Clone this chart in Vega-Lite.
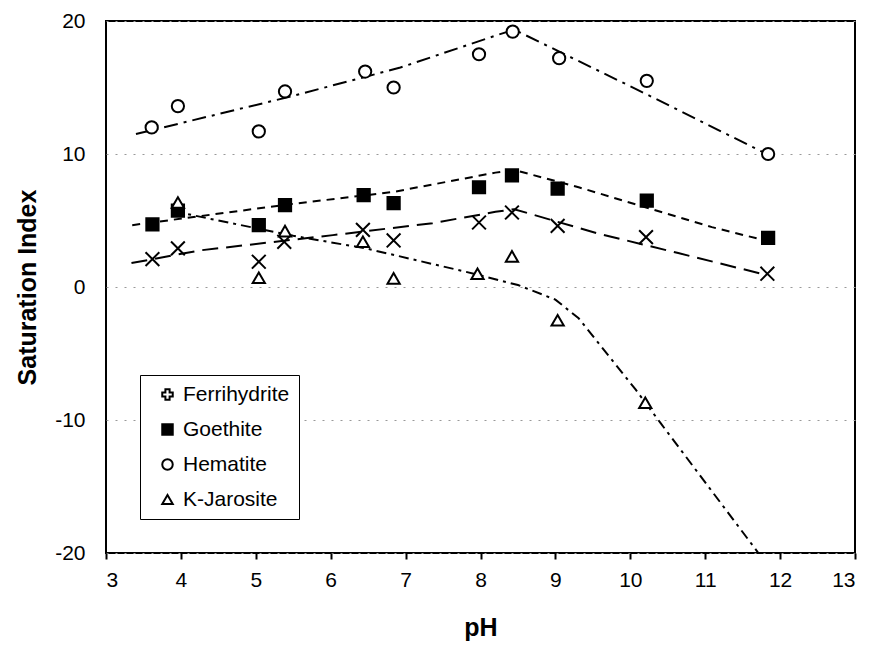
{
  "$schema": "https://vega.github.io/schema/vega-lite/v6.json",
  "width": 749,
  "height": 532,
  "autosize": {"type": "none"},
  "padding": {"left": 106, "top": 21, "right": 21, "bottom": 93},
  "background": "white",
  "config": {
    "font": "Liberation Sans",
    "view": {"stroke": "black", "strokeWidth": 2},
    "axis": {
      "labelFont": "Liberation Sans",
      "labelFontSize": 21,
      "labelColor": "black",
      "titleFont": "Liberation Sans",
      "titleFontSize": 25,
      "titleFontWeight": "bold",
      "titleColor": "black",
      "domain": false
    },
    "legend": {
      "labelFont": "Liberation Sans",
      "labelFontSize": 21,
      "labelColor": "black",
      "strokeColor": "black",
      "fillColor": "white",
      "padding": 9,
      "rowPadding": 13,
      "symbolStrokeWidth": 2,
      "symbolSize": 110,
      "symbolOffset": 8,
      "labelOffset": 5
    }
  },
  "datasets": {
    "pts": [
      {"series": "Ferrihydrite", "pH": 3.62, "SI": 2.1},
      {"series": "Ferrihydrite", "pH": 3.96, "SI": 2.9},
      {"series": "Ferrihydrite", "pH": 5.04, "SI": 1.9},
      {"series": "Ferrihydrite", "pH": 5.38, "SI": 3.4},
      {"series": "Ferrihydrite", "pH": 6.43, "SI": 4.3},
      {"series": "Ferrihydrite", "pH": 6.84, "SI": 3.5},
      {"series": "Ferrihydrite", "pH": 7.98, "SI": 4.85},
      {"series": "Ferrihydrite", "pH": 8.42, "SI": 5.6},
      {"series": "Ferrihydrite", "pH": 9.03, "SI": 4.6},
      {"series": "Ferrihydrite", "pH": 10.21, "SI": 3.75},
      {"series": "Ferrihydrite", "pH": 11.83, "SI": 1.0},
      {"series": "Goethite", "pH": 3.62, "SI": 4.7},
      {"series": "Goethite", "pH": 3.96, "SI": 5.75},
      {"series": "Goethite", "pH": 5.04, "SI": 4.65},
      {"series": "Goethite", "pH": 5.39, "SI": 6.15},
      {"series": "Goethite", "pH": 6.44, "SI": 6.9},
      {"series": "Goethite", "pH": 6.84, "SI": 6.3},
      {"series": "Goethite", "pH": 7.98, "SI": 7.5},
      {"series": "Goethite", "pH": 8.42, "SI": 8.4},
      {"series": "Goethite", "pH": 9.03, "SI": 7.4},
      {"series": "Goethite", "pH": 10.22, "SI": 6.5},
      {"series": "Goethite", "pH": 11.84, "SI": 3.7},
      {"series": "Hematite", "pH": 3.61, "SI": 12.0},
      {"series": "Hematite", "pH": 3.96, "SI": 13.6},
      {"series": "Hematite", "pH": 5.04, "SI": 11.7},
      {"series": "Hematite", "pH": 5.39, "SI": 14.7},
      {"series": "Hematite", "pH": 6.46, "SI": 16.2},
      {"series": "Hematite", "pH": 6.84, "SI": 15.0},
      {"series": "Hematite", "pH": 7.98, "SI": 17.5},
      {"series": "Hematite", "pH": 8.43, "SI": 19.2},
      {"series": "Hematite", "pH": 9.05, "SI": 17.2},
      {"series": "Hematite", "pH": 10.22, "SI": 15.5},
      {"series": "Hematite", "pH": 11.84, "SI": 10.0},
      {"series": "K-Jarosite", "pH": 3.96, "SI": 6.35},
      {"series": "K-Jarosite", "pH": 5.04, "SI": 0.7},
      {"series": "K-Jarosite", "pH": 5.39, "SI": 4.2},
      {"series": "K-Jarosite", "pH": 6.43, "SI": 3.4},
      {"series": "K-Jarosite", "pH": 6.84, "SI": 0.65},
      {"series": "K-Jarosite", "pH": 7.96, "SI": 1.0},
      {"series": "K-Jarosite", "pH": 8.42, "SI": 2.3},
      {"series": "K-Jarosite", "pH": 9.03, "SI": -2.5},
      {"series": "K-Jarosite", "pH": 10.2, "SI": -8.7}
    ],
    "fits": [
      {"series": "Hematite", "pH": 3.4, "SI": 11.5},
      {"series": "Hematite", "pH": 5.45, "SI": 14.3},
      {"series": "Hematite", "pH": 6.93, "SI": 16.5},
      {"series": "Hematite", "pH": 8.2, "SI": 18.9},
      {"series": "Hematite", "pH": 8.45, "SI": 19.35},
      {"series": "Hematite", "pH": 10.07, "SI": 14.9},
      {"series": "Hematite", "pH": 11.82, "SI": 10.0},
      {"series": "Goethite", "pH": 3.35, "SI": 4.65},
      {"series": "Goethite", "pH": 5.42, "SI": 6.2},
      {"series": "Goethite", "pH": 6.84, "SI": 7.15},
      {"series": "Goethite", "pH": 8.2, "SI": 8.6},
      {"series": "Goethite", "pH": 8.45, "SI": 8.8},
      {"series": "Goethite", "pH": 9.31, "SI": 7.5},
      {"series": "Goethite", "pH": 11.09, "SI": 4.5},
      {"series": "Goethite", "pH": 11.8, "SI": 3.5},
      {"series": "Ferrihydrite", "pH": 3.34, "SI": 1.8},
      {"series": "Ferrihydrite", "pH": 4.25, "SI": 2.75},
      {"series": "Ferrihydrite", "pH": 6.03, "SI": 3.9},
      {"series": "Ferrihydrite", "pH": 7.36, "SI": 4.8},
      {"series": "Ferrihydrite", "pH": 8.2, "SI": 5.65},
      {"series": "Ferrihydrite", "pH": 8.45, "SI": 5.85},
      {"series": "Ferrihydrite", "pH": 9.55, "SI": 4.05},
      {"series": "Ferrihydrite", "pH": 10.64, "SI": 2.55},
      {"series": "Ferrihydrite", "pH": 11.82, "SI": 0.9},
      {"series": "K-Jarosite", "pH": 3.9, "SI": 5.7},
      {"series": "K-Jarosite", "pH": 4.5, "SI": 5.0},
      {"series": "K-Jarosite", "pH": 5.5, "SI": 3.85},
      {"series": "K-Jarosite", "pH": 6.47, "SI": 2.9},
      {"series": "K-Jarosite", "pH": 7.8, "SI": 1.15},
      {"series": "K-Jarosite", "pH": 8.5, "SI": 0.15},
      {"series": "K-Jarosite", "pH": 9.0, "SI": -0.95},
      {"series": "K-Jarosite", "pH": 9.31, "SI": -2.35},
      {"series": "K-Jarosite", "pH": 10.07, "SI": -7.7},
      {"series": "K-Jarosite", "pH": 10.4, "SI": -10.2},
      {"series": "K-Jarosite", "pH": 11.71, "SI": -20.0}
    ]
  },
  "encoding": {
    "x": {
      "field": "pH", "type": "quantitative",
      "scale": {"domain": [3, 13], "nice": false, "zero": false},
      "axis": {
        "title": "pH", "values": [3,4,5,6,7,8,9,10,11,12,13], "format": "d",
        "tickSize": 6, "tickColor": "black", "tickWidth": 2,
        "labelPadding": 10, "grid": false,
        "titleY": 74, "titleBaseline": "middle"
      }
    },
    "y": {
      "field": "SI", "type": "quantitative",
      "scale": {"domain": [-20, 20], "nice": false, "zero": false},
      "axis": {
        "title": "Saturation Index", "values": [-20,-10,0,10,20],
        "labelExpr": "toString(datum.value)",
        "ticks": false, "labelPadding": 21,
        "grid": true, "gridColor": "#999999", "gridDash": [2, 7], "gridWidth": 1,
        "titleX": -79, "titleBaseline": "middle"
      }
    }
  },
  "layer": [
    {
      "data": {"name": "fits"},
      "transform": [{"filter": "datum.series == 'Ferrihydrite'"}],
      "mark": {"type": "line", "color": "black", "strokeWidth": 2, "clip": true, "strokeDash": [16, 8]}
    },
    {
      "data": {"name": "fits"},
      "transform": [{"filter": "datum.series == 'Goethite'"}],
      "mark": {"type": "line", "color": "black", "strokeWidth": 2, "clip": true, "strokeDash": [8, 6]}
    },
    {
      "data": {"name": "fits"},
      "transform": [{"filter": "datum.series == 'Hematite'"}],
      "mark": {"type": "line", "color": "black", "strokeWidth": 2, "clip": true, "strokeDash": [14, 6, 3, 6]}
    },
    {
      "data": {"name": "fits"},
      "transform": [{"filter": "datum.series == 'K-Jarosite'"}],
      "mark": {"type": "line", "color": "black", "strokeWidth": 2, "clip": true, "strokeDash": [10, 5, 3, 5]}
    },
    {
      "data": {"name": "pts"},
      "transform": [{"filter": "datum.series == 'Ferrihydrite'"}],
      "mark": {"type": "point", "shape": "M-1,-1L1,1M1,-1L-1,1", "color": "black", "stroke": "black", "strokeWidth": 2, "opacity": 1, "size": 190}
    },
    {
      "data": {"name": "pts"},
      "transform": [{"filter": "datum.series != 'Ferrihydrite'"}],
      "mark": {"type": "point", "color": "black", "stroke": "black", "strokeWidth": 2, "opacity": 1, "size": 150},
      "encoding": {
        "shape": {
          "field": "series", "type": "nominal",
          "scale": {
            "domain": ["Ferrihydrite", "Goethite", "Hematite", "K-Jarosite"],
            "range": ["cross", "square", "circle", "triangle-up"]
          },
          "legend": {"title": null, "orient": "bottom-left", "offset": 34}
        },
        "fill": {
          "field": "series", "type": "nominal",
          "scale": {
            "domain": ["Ferrihydrite", "Goethite", "Hematite", "K-Jarosite"],
            "range": ["white", "black", "white", "white"]
          },
          "legend": null
        }
      }
    }
  ]
}
